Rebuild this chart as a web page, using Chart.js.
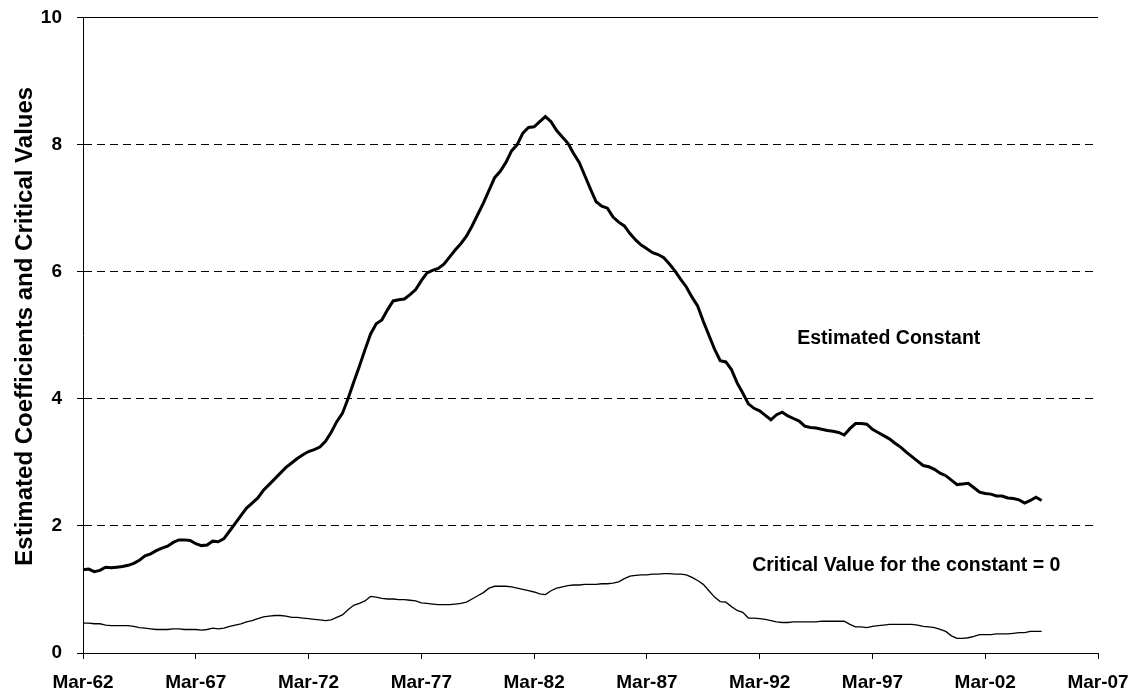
<!DOCTYPE html>
<html>
<head>
<meta charset="utf-8">
<title>Estimated Constant</title>
<script src="https://cdn.jsdelivr.net/npm/chart.js@4.4.1/dist/chart.umd.min.js"></script>
<style>
    html, body { margin: 0; padding: 0; background: #fff; }
    #wrap { width: 1136px; height: 695px; }
</style>
</head>
<body>
<div id="wrap"><canvas id="chart"></canvas></div>
<script>
// axis labels shown every 5 years
const tickLabels = ['Mar-62', 'Mar-67', 'Mar-72', 'Mar-77', 'Mar-82', 'Mar-87', 'Mar-92', 'Mar-97', 'Mar-02', 'Mar-07'];

// quarterly categories, Mar-62 .. Mar-07
const months = ['Mar', 'Jun', 'Sep', 'Dec'];
const quarters = [];
for (let y = 1962; y <= 2007; y++) {
    months.forEach(m => {
        if (y === 2007 && m !== 'Mar') return;
        quarters.push(m + '-' + String(y).slice(2));
    });
}

const estimatedConstant = [
    1.31, 1.32, 1.28, 1.30, 1.35, 1.34, 1.35, 1.36, 1.38, 1.41,
    1.46, 1.53, 1.56, 1.61, 1.65, 1.68, 1.74, 1.78, 1.78, 1.77,
    1.72, 1.69, 1.70, 1.76, 1.75, 1.80, 1.92, 2.04, 2.16, 2.28,
    2.36, 2.44, 2.56, 2.65, 2.74, 2.83, 2.92, 2.99, 3.06, 3.12,
    3.17, 3.20, 3.24, 3.33, 3.47, 3.64, 3.77, 4.00, 4.26, 4.51,
    4.77, 5.02, 5.18, 5.24, 5.40, 5.54, 5.56, 5.57, 5.64, 5.72,
    5.86, 5.98, 6.02, 6.05, 6.12, 6.23, 6.34, 6.44, 6.56, 6.72,
    6.90, 7.08, 7.28, 7.48, 7.58, 7.72, 7.90, 8.00, 8.18, 8.27,
    8.28, 8.36, 8.44, 8.36, 8.22, 8.12, 8.02, 7.86, 7.72, 7.51,
    7.30, 7.10, 7.03, 7.00, 6.86, 6.78, 6.72, 6.60, 6.50, 6.42,
    6.36, 6.30, 6.27, 6.22, 6.12, 6.01, 5.88, 5.76, 5.60, 5.46,
    5.22, 5.00, 4.78, 4.60, 4.58, 4.46, 4.25, 4.09, 3.92, 3.85,
    3.81, 3.74, 3.67, 3.75, 3.79, 3.73, 3.69, 3.65, 3.57, 3.55,
    3.54, 3.52, 3.50, 3.49, 3.47, 3.43, 3.53, 3.61, 3.61, 3.60,
    3.52, 3.47, 3.42, 3.37, 3.30, 3.24, 3.16, 3.09, 3.02, 2.95,
    2.93, 2.89, 2.83, 2.79, 2.72, 2.65, 2.66, 2.67, 2.60, 2.53,
    2.51, 2.50, 2.47, 2.47, 2.44, 2.43, 2.41, 2.36, 2.40, 2.45,
    2.40
];

const criticalValue = [
    0.47, 0.47, 0.46, 0.46, 0.44, 0.43, 0.43, 0.43, 0.43, 0.42,
    0.40, 0.39, 0.38, 0.37, 0.37, 0.37, 0.38, 0.38, 0.37, 0.37,
    0.37, 0.36, 0.37, 0.39, 0.38, 0.39, 0.42, 0.44, 0.46, 0.49,
    0.51, 0.54, 0.57, 0.58, 0.59, 0.59, 0.58, 0.56, 0.56, 0.55,
    0.54, 0.53, 0.52, 0.51, 0.52, 0.56, 0.60, 0.68, 0.75, 0.78,
    0.82, 0.89, 0.88, 0.86, 0.85, 0.85, 0.84, 0.84, 0.83, 0.82,
    0.79, 0.78, 0.77, 0.76, 0.76, 0.76, 0.77, 0.78, 0.80, 0.85,
    0.90, 0.95, 1.02, 1.05, 1.05, 1.05, 1.04, 1.02, 1.00, 0.98,
    0.96, 0.93, 0.92, 0.98, 1.02, 1.04, 1.06, 1.07, 1.07, 1.08,
    1.08, 1.08, 1.09, 1.09, 1.10, 1.12, 1.17, 1.21, 1.22, 1.23,
    1.23, 1.24, 1.24, 1.25, 1.25, 1.24, 1.24, 1.23, 1.19, 1.14,
    1.08, 0.98, 0.88, 0.81, 0.80, 0.73, 0.67, 0.64, 0.55, 0.55,
    0.54, 0.53, 0.51, 0.49, 0.48, 0.48, 0.49, 0.49, 0.49, 0.49,
    0.49, 0.50, 0.50, 0.50, 0.50, 0.50, 0.45, 0.41, 0.41, 0.40,
    0.42, 0.43, 0.44, 0.45, 0.45, 0.45, 0.45, 0.45, 0.44, 0.42,
    0.41, 0.40, 0.37, 0.34, 0.27, 0.23, 0.23, 0.24, 0.26, 0.29,
    0.29, 0.29, 0.30, 0.30, 0.30, 0.31, 0.32, 0.32, 0.34, 0.34,
    0.34
];

const FONT = 'Liberation Sans, Arial, sans-serif';

// text labels next to the two lines, plus the rotated y title
const chartTexts = {
    id: 'chartTexts',
    afterDatasetsDraw(chart) {
        const { ctx, chartArea, scales: { x, y } } = chart;
        ctx.save();
        ctx.fillStyle = '#000';
        ctx.font = 'bold 19.5px ' + FONT;
        ctx.textAlign = 'center';
        ctx.textBaseline = 'middle';
        ctx.fillText('Estimated Constant', x.getPixelForValue(142.9), y.getPixelForValue(4.95));
        ctx.fillText('Critical Value for the constant = 0', x.getPixelForValue(146), y.getPixelForValue(1.37));

        ctx.translate(25, (chartArea.top + chartArea.bottom) / 2 - 9);
        ctx.rotate(-Math.PI / 2);
        ctx.font = 'bold 24px ' + FONT;
        ctx.fillText('Estimated Coefficients and Critical Values', 0, 0);
        ctx.restore();
    }
};

new Chart(document.getElementById('chart'), {
    type: 'line',
    data: {
        labels: quarters,
        datasets: [{
            label: 'Estimated Constant',
            data: estimatedConstant,
            borderColor: '#000',
            borderWidth: 3,
            pointRadius: 0,
            tension: 0
        }, {
            label: 'Critical Value for the constant = 0',
            data: criticalValue,
            borderColor: '#000',
            borderWidth: 1.3,
            pointRadius: 0,
            tension: 0
        }]
    },
    options: {
        responsive: true,
        maintainAspectRatio: false,
        animation: false,
        layout: { padding: { top: 17.5, right: 38, left: 0, bottom: 0 } },
        plugins: {
            legend: { display: false },
            tooltip: { enabled: false }
        },
        scales: {
            x: {
                type: 'category',
                offset: false,
                afterFit: (scale) => {
                    scale.height = 42;
                    scale.paddingLeft = 0;
                    scale.paddingRight = 0;
                },
                grid: {
                    drawOnChartArea: false,
                    drawTicks: true,
                    tickLength: 6,
                    color: '#000',
                    tickColor: '#000'
                },
                border: { display: true, color: '#000', width: 1 },
                ticks: {
                    autoSkip: false,
                    maxRotation: 0,
                    padding: 12,
                    color: '#000',
                    font: { family: FONT, size: 19, weight: 'bold' },
                    callback: (val, idx) => (idx % 20 === 0 ? tickLabels[idx / 20] : null)
                }
            },
            y: {
                min: 0,
                max: 10,
                afterFit: (scale) => {
                    scale.width = 83;
                    scale.paddingTop = 0;
                    scale.paddingBottom = 0;
                },
                grid: {
                    color: (ctx) => (ctx.tick && ctx.tick.value === 0 ? 'rgba(0,0,0,0)' : '#000'),
                    tickColor: '#000',
                    lineWidth: 1,
                    tickLength: 6
                },
                border: {
                    display: true,
                    color: '#000',
                    width: 1,
                    dash: (ctx) => (ctx.tick && ctx.tick.value === 10 ? [] : [8, 5])
                },
                ticks: {
                    stepSize: 2,
                    padding: 15,
                    color: '#000',
                    font: { family: FONT, size: 19, weight: 'bold' }
                }
            }
        }
    },
    plugins: [chartTexts]
});
</script>
</body>
</html>
